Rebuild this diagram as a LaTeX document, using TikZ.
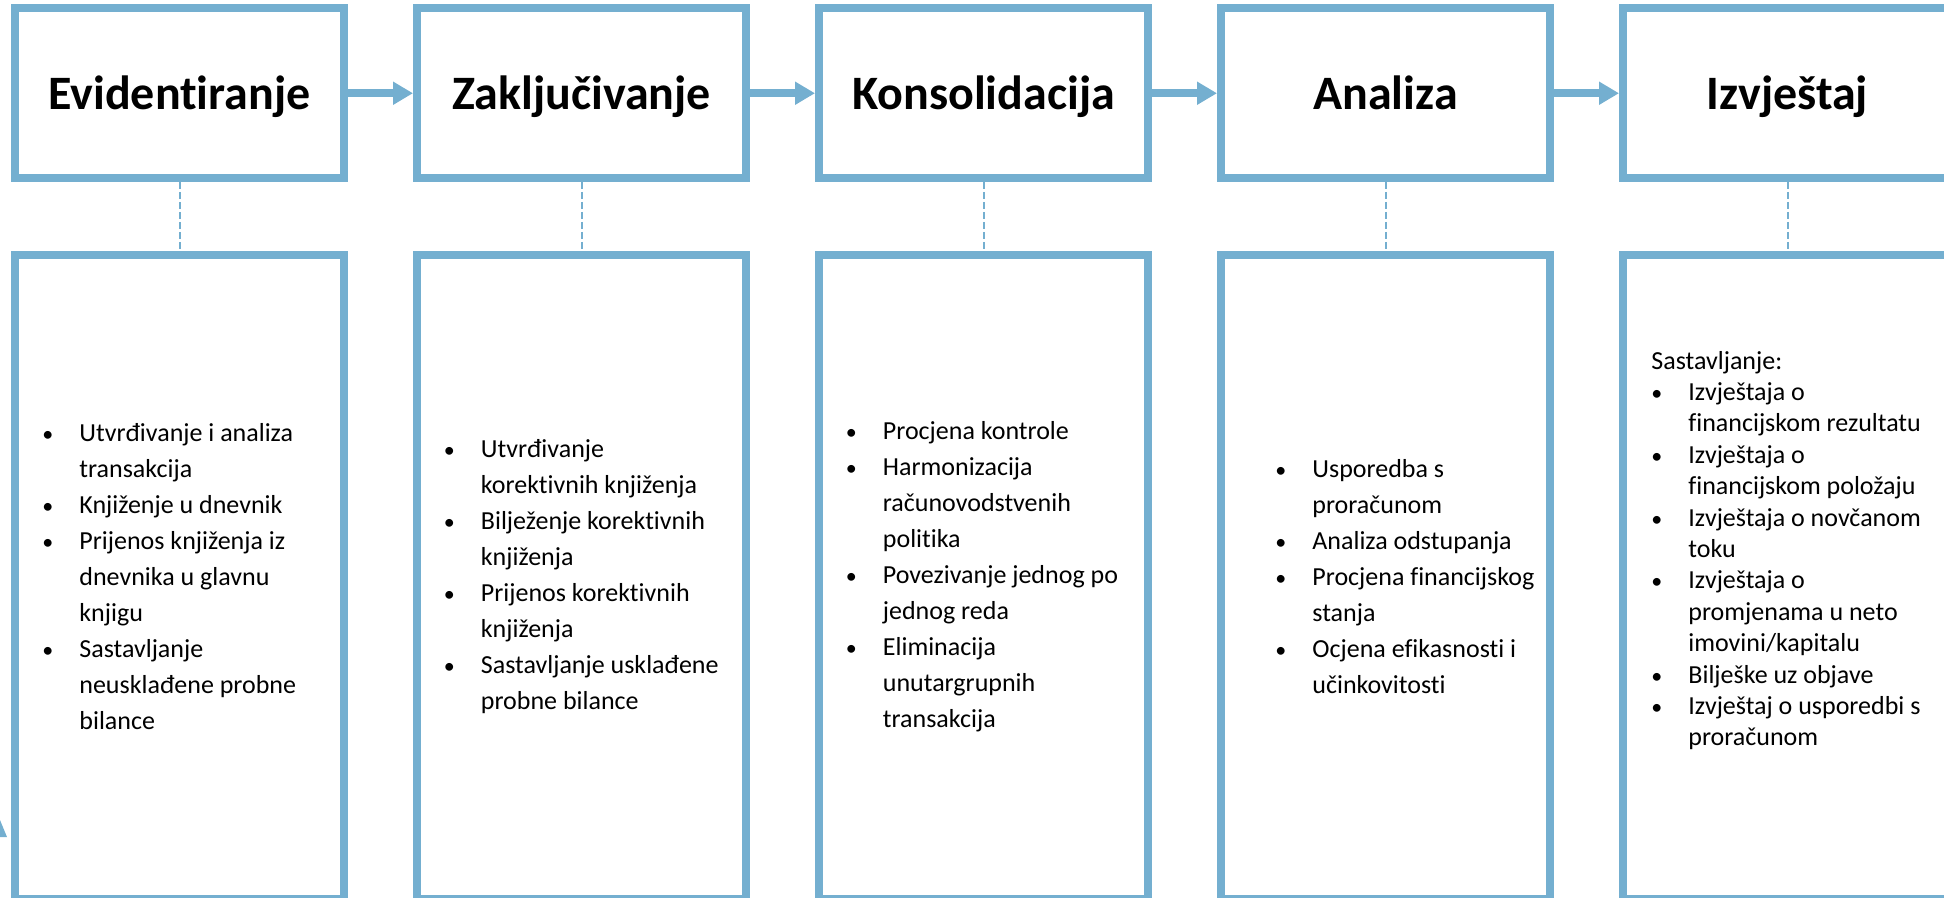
\documentclass[tikz,border=0pt]{standalone}
\usepackage{fontspec}
\setmainfont[Ligatures=NoCommon]{Carlito}
\usetikzlibrary{arrows.meta,positioning}
\definecolor{stageblue}{RGB}{116,175,208}
\newlength{\itmw}\setlength{\itmw}{18.5pt}
\newcommand{\itm}{\makebox[\itmw][l]{\fontsize{11}{11}\selectfont\textbullet}}
\newcommand{\cnt}{\hspace*{\itmw}}

\begin{document}
\begin{tikzpicture}[
		node distance=34.5pt and 32.5pt,
		stage/.style={rectangle, draw=stageblue, line width=4pt, fill=white,
				minimum width=164.5pt, minimum height=84.75pt, inner sep=0pt,
				font=\fontsize{24}{28}\selectfont\bfseries, text height=15.8pt, text depth=0pt},
		detail/.style={rectangle, draw=stageblue, line width=4pt,
				minimum width=164.5pt, minimum height=322pt, inner sep=0pt},
		list/.style={align=left, inner sep=0pt, anchor=west, font=\fontsize{13}{18}\selectfont},
		arr/.style={-{Triangle[length=10pt, width=11pt]}, line width=4pt, stageblue},
		link/.style={stageblue, line width=1pt, dash pattern=on 3.5pt off 1.5pt},
		]
		\useasboundingbox (0,0) rectangle (972pt,-449pt);
		\clip (0,0) rectangle (972pt,-449pt);

		% Stages
		\node[stage] (evid) at (89.75pt,-46.625pt) {Evidentiranje};
		\node[stage, right=of evid] (zakl) {Zaključivanje};
		\node[stage, right=of zakl] (kons) {Konsolidacija};
		\node[stage, right=of kons] (anal) {Analiza};
		\node[stage, right=of anal] (izvj) {Izvještaj};

		% Detail boxes
		\node[detail, below=of evid] (devid) {};
		\node[detail, below=of zakl] (dzakl) {};
		\node[detail, below=of kons] (dkons) {};
		\node[detail, below=of anal] (danal) {};
		\node[detail, below=of izvj] (dizvj) {};

		% Lists
		\node[list] (levid) at ([xshift=15.5pt]devid.west) {\itm Utvrđivanje i analiza\\
				\cnt transakcija\\
				\itm Knjiženje u dnevnik\\
				\itm Prijenos knjiženja iz\\
				\cnt dnevnika u glavnu\\
				\cnt knjigu\\
				\itm Sastavljanje\\
				\cnt neusklađene probne\\
				\cnt bilance};
		\node[list] (lzakl) at ([xshift=15.25pt]dzakl.west) {\itm Utvrđivanje\\
				\cnt korektivnih knjiženja\\
				\itm Bilježenje korektivnih\\
				\cnt knjiženja\\
				\itm Prijenos korektivnih\\
				\cnt knjiženja\\
				\itm Sastavljanje usklađene\\
				\cnt probne bilance};
		\node[list] (lkons) at ([xshift=15.25pt]dkons.west) {\itm Procjena kontrole\\
				\itm Harmonizacija\\
				\cnt računovodstvenih\\
				\cnt politika\\
				\itm Povezivanje jednog po\\
				\cnt jednog reda\\
				\itm Eliminacija\\
				\cnt unutargrupnih\\
				\cnt transakcija};
		\node[list] (lanal) at ([xshift=29pt]danal.west) {\itm Usporedba s\\
				\cnt proračunom\\
				\itm Analiza odstupanja\\
				\itm Procjena financijskog\\
				\cnt stanja\\
				\itm Ocjena efikasnosti i\\
				\cnt učinkovitosti};
		\node[list, font=\fontsize{13}{15.7}\selectfont] (lizvj) at ([xshift=16pt, yshift=13.25pt]dizvj.west) {Sastavljanje:\\
				\itm Izvještaja o\\
				\cnt financijskom rezultatu\\
				\itm Izvještaja o\\
				\cnt financijskom položaju\\
				\itm Izvještaja o novčanom\\
				\cnt toku\\
				\itm Izvještaja o\\
				\cnt promjenama u neto\\
				\cnt imovini/kapitalu\\
				\itm Bilješke uz objave\\
				\itm Izvještaj o usporedbi s\\
				\cnt proračunom};

		% Arrows
		\draw[arr] (evid) -- (zakl);
		\draw[arr] (zakl) -- (kons);
		\draw[arr] (kons) -- (anal);
		\draw[arr] (anal) -- (izvj);

		% Dashed links
		\draw[link] (evid) -- (devid);
		\draw[link] (zakl) -- (dzakl);
		\draw[link] (kons) -- (dkons);
		\draw[link] (anal) -- (danal);
		\draw[link] (izvj) -- (dizvj);

		% cut-off tip at the left edge
		\fill[stageblue] (0,-410pt) -- (3.5pt,-418.5pt) -- (0,-418.5pt) -- cycle;
	\end{tikzpicture}
\end{document}
